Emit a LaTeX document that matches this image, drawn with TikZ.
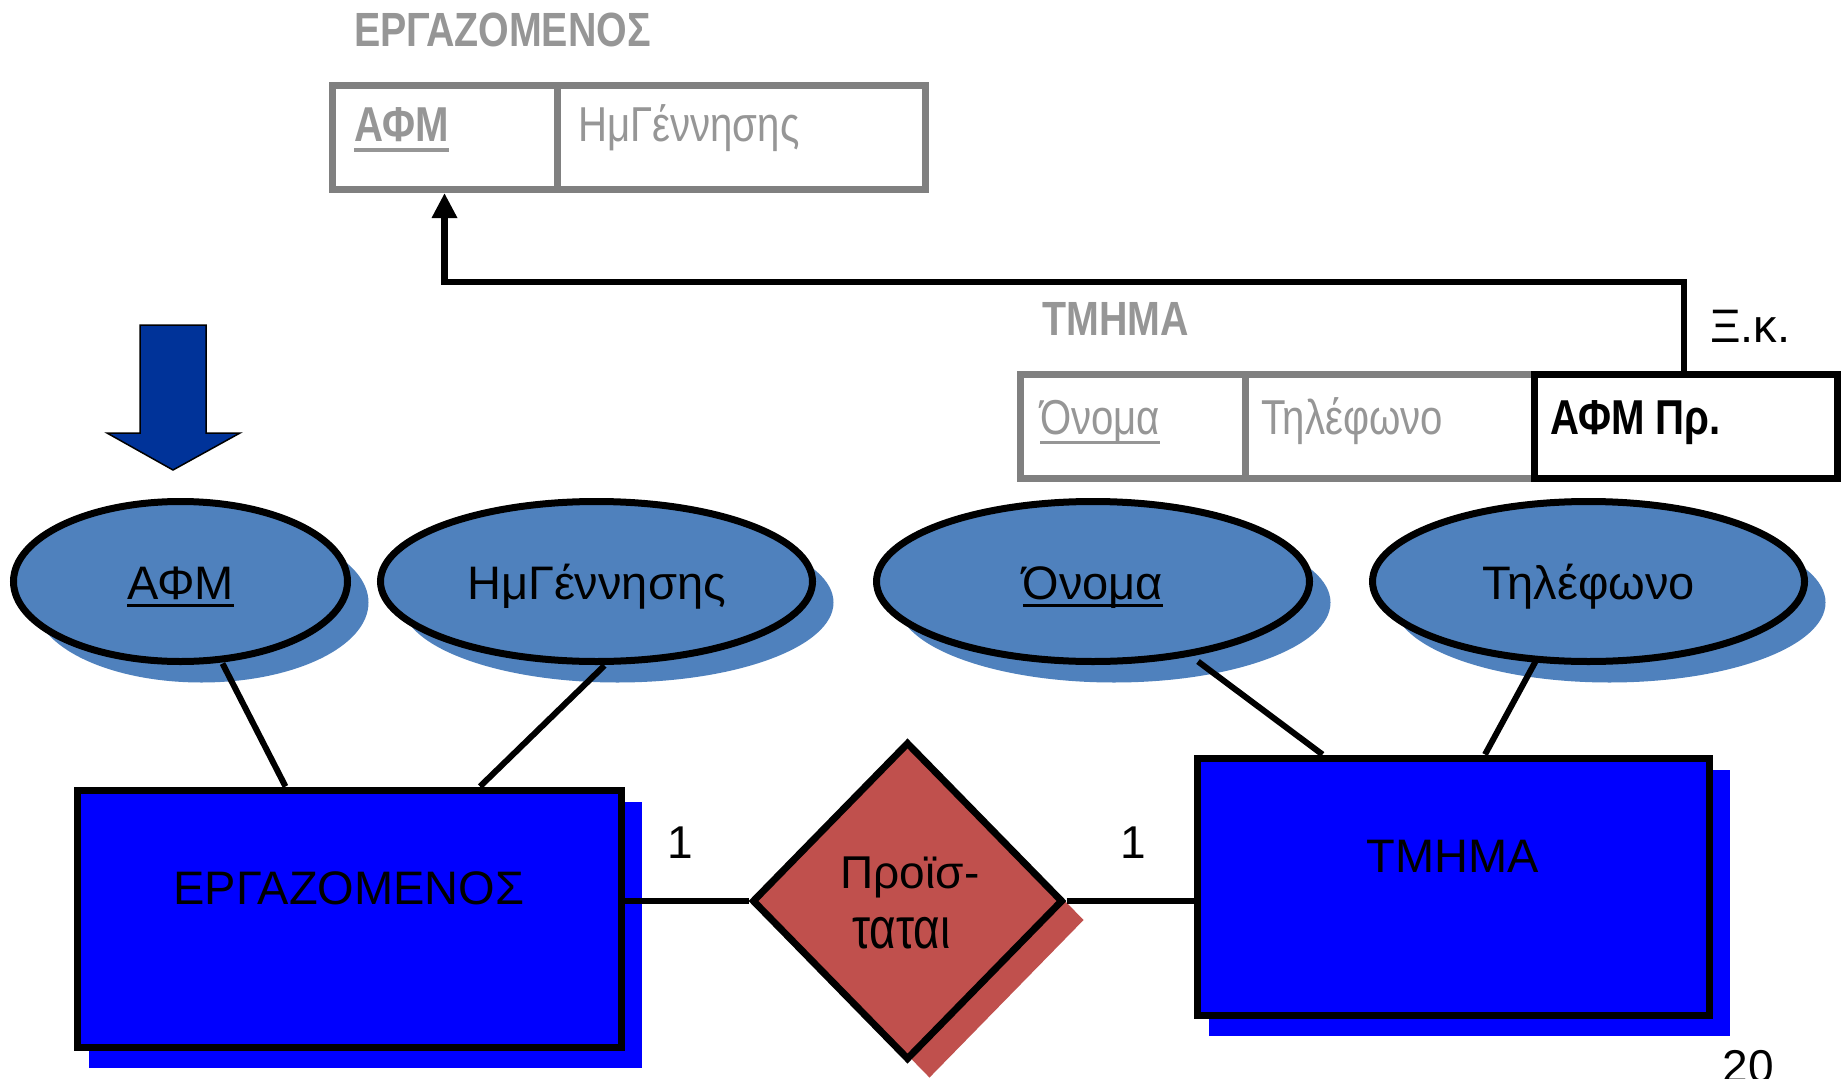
\documentclass[tikz,border=0pt]{standalone}
\usepackage{graphicx}
\usepackage{fontspec}
\setmainfont{Liberation Sans}
\newfontfamily\narrowfont{Liberation Sans}[FakeStretch=0.82]
\usetikzlibrary{shapes.geometric,shadows,arrows.meta,calc,backgrounds}
\definecolor{attrblue}{HTML}{4F81BD}
\definecolor{entblue}{HTML}{0000FF}
\definecolor{relred}{HTML}{C0504D}
\definecolor{tabgray}{HTML}{808080}
\definecolor{txtgray}{HTML}{969696}
\definecolor{navyarrow}{HTML}{003399}
\newcommand{\myul}[3]{\setbox0\hbox{#3}\rlap{\rule[-#1]{\wd0}{#2}}\box0}
\begin{document}
\begin{tikzpicture}[x=1pt,y=-1pt,
  erattr/.style={ellipse, draw=black, line width=7pt, fill=attrblue,
    minimum width=432pt, minimum height=160pt, inner sep=0pt,
    text height=36pt, text depth=0pt, font=\fontsize{47pt}{56pt}\selectfont,
    general shadow={fill=attrblue, shadow xshift=21pt, shadow yshift=-21pt}},
  erent/.style={rectangle, draw=black, line width=7pt, fill=entblue,
    minimum height=257pt, inner sep=0pt, text height=35pt, text depth=63pt,
    font=\fontsize{47pt}{56pt}\selectfont},
  errel/.style={diamond, draw=black, line width=7pt, fill=relred,
    minimum width=311pt, minimum height=318pt, inner sep=0pt,
    general shadow={fill=relred, shadow xshift=22pt, shadow yshift=-19pt}},
  erconn/.style={line width=6pt},
  cell/.style={rectangle, draw=tabgray, line width=7pt, minimum height=104pt, inner sep=0pt},
  celltext/.style={font=\narrowfont\fontsize{49pt}{58pt}\selectfont, text=txtgray,
    inner sep=0pt, anchor=base west},
  titletxt/.style={font=\narrowfont\bfseries\fontsize{48pt}{56pt}\selectfont, text=txtgray,
    inner sep=0pt, anchor=base west},
  plaintxt/.style={font=\fontsize{46pt}{55pt}\selectfont, inner sep=0pt},
  fkline/.style={line width=6.5pt, -{Triangle[width=24pt,length=25pt]}},
  difftxt/.style={anchor=base, inner sep=0pt, font=\fontsize{46pt}{55pt}\selectfont}
]
\useasboundingbox (0,0) rectangle (1843,1078);

% top relation EMPLOYEE
\node[titletxt] (t1) at (354,47) {ΕΡΓΑΖΟΜΕΝΟΣ};
\node[cell, minimum width=225pt] (e1) at (444.5,137.5) {};
\node[cell, minimum width=368pt] (e2) at (741,137.5) {};
\node[celltext] (e1t) at (354,142) {\bfseries\myul{10pt}{3.5pt}{ΑΦΜ}};
\node[celltext] (e2t) at (578,142) {ΗμΓέννησης};

% relation DEPARTMENT
\node[titletxt] (t2) at (1042,335) {ΤΜΗΜΑ};
\node[cell, minimum width=225pt] (d1) at (1132.5,426) {};
\node[cell, minimum width=289pt] (d2) at (1389.5,426) {};
\node[cell, draw=black, minimum width=303pt] (d3) at (1685.5,426) {};
\node[celltext] (d1t) at (1040,434) {\myul{10pt}{3.5pt}{Όνομα}};
\node[celltext] (d2t) at (1261,434) {Τηλέφωνο};
\node[celltext, text=black] (d3t) at (1550,434) {\bfseries ΑΦΜ Πρ.};
\node[anchor=base west, inner sep=0pt, font=\fontsize{47pt}{56pt}\selectfont] (xk) at (1710,342) {Ξ.κ.};

% foreign key arrow
\draw[fkline] ($(d3.north west)+(153.5,0)$) -- ++(0,-88.5) -| (e1.south);

% blue block arrow
\draw[fill=navyarrow, line width=1.5pt] (140,325) -- (206,325) -- (206,433) -- (240,433)
  -- (173,470) -- (107,433) -- (140,433) -- cycle;

% ER diagram
\node[erattr, minimum width=334pt] (afm) at (180.5,581.5) {\myul{7pt}{3pt}{ΑΦΜ}};
\node[erattr] (hmg) at (596.5,581.5) {ΗμΓέννησης};
\node[erattr, minimum width=433pt] (onoma) at (1093,581.5) {\myul{7pt}{3pt}{Όνομα}};
\node[erattr] (tel) at (1588.5,581.5) {Τηλέφωνο};

\node[erent, minimum width=544pt] (emp) at (349,918.5) {ΕΡΓΑΖΟΜΕΝΟΣ};
\node[erent, minimum width=512pt] (tmhma) at (1453,886.5) {ΤΜΗΜΑ};

\node[errel] (relnode) at (907.5,901) {};
\node[difftxt] (reltxt1) at ($(relnode.center)+(2.5,-13)$) {Προϊσ-};
\node[difftxt] (reltxt2) at ($(relnode.center)+(-6,47)$)
  {\scalebox{0.79}[1]{\fontsize{58pt}{66pt}\selectfont ταται}};

\begin{scope}[on background layer]
\fill[white] (0,0) rectangle (1843,1078);
\fill[entblue] ($(emp.north west)+(15,15)$) rectangle ($(emp.south east)+(17,17)$);
\fill[entblue] ($(tmhma.north west)+(15,15)$) rectangle ($(tmhma.south east)+(17,17)$);
\end{scope}

\draw[erconn] ($(afm.center)+(42,82)$) -- ($(emp.north west)+(212,0)$);
\draw[erconn] ($(hmg.center)+(8,84)$) -- ($(emp.north west)+(406.5,0)$);
\draw[erconn] ($(onoma.center)+(105,80)$) -- ($(tmhma.north west)+(129,0)$);
\draw[erconn] ($(tel.center)+(-53,80)$) -- ($(tmhma.north west)+(291.5,0)$);
\draw[erconn] (emp.east |- relnode.west) -- (relnode.west);
\draw[erconn] (relnode.east) -- (tmhma.west |- relnode.east);

\node[plaintxt] (card1) at (680,843) {1};
\node[plaintxt] (card2) at (1133,843) {1};
\node[plaintxt, anchor=north] (pgnum) at (1748,1050) {20};
\end{tikzpicture}
\end{document}
